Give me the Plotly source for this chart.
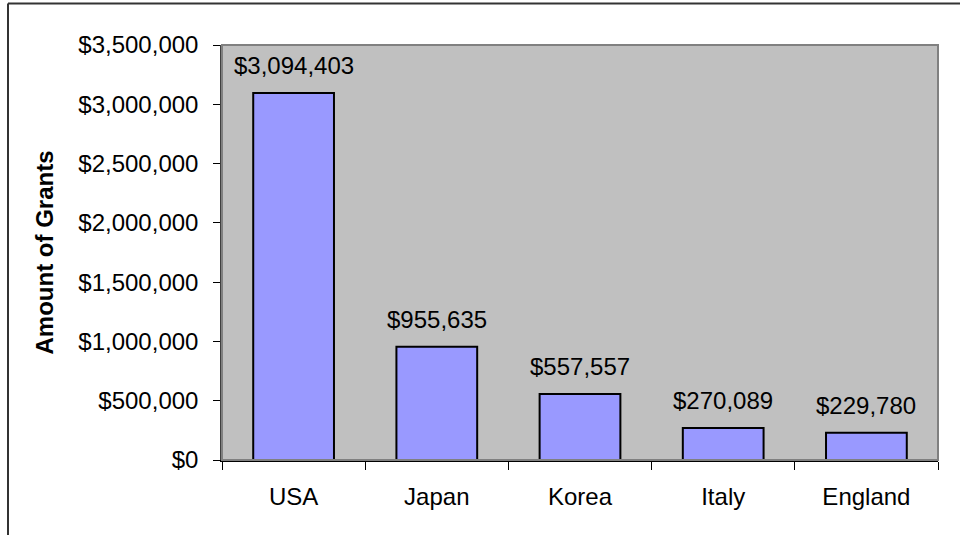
import plotly.graph_objects as go

categories = ["USA", "Japan", "Korea", "Italy", "England"]
grants = [3094403, 955635, 557557, 270089, 229780]
labels = ["$3,094,403", "$955,635", "$557,557", "$270,089", "$229,780"]
y_ticks = [0, 500000, 1000000, 1500000, 2000000, 2500000, 3000000, 3500000]
y_tick_text = ["$0", "$500,000", "$1,000,000", "$1,500,000", "$2,000,000",
               "$2,500,000", "$3,000,000", "$3,500,000"]

FONT = "Liberation Sans, Arial, sans-serif"
W, H = 960, 535
ML, MR, MT, MB = 222, 960 - 938, 45, 535 - 460
PW, PH = W - ML - MR, H - MT - MB

fig = go.Figure()
fig.add_trace(go.Bar(
    x=categories, y=grants,
    marker=dict(color="#9999FF", line=dict(color="black", width=2)),
    hoverinfo="skip",
))

for c, v, t in zip(categories, grants, labels):
    fig.add_annotation(x=c, y=v, text=t, showarrow=False, yanchor="bottom",
                       yshift=12, font=dict(family=FONT, size=24, color="black"))

# plot area frame (top/right gray)
fig.add_shape(type="rect", xref="paper", yref="paper", x0=0, x1=1, y0=0, y1=1,
              line=dict(color="#808080", width=2), fillcolor="rgba(0,0,0,0)", layer="above")
# outer chart border (left and top), pixel positions converted to paper coords
px = lambda x: (x - ML) / PW
py = lambda y: 1 - (y - MT) / PH
fig.add_shape(type="line", xref="paper", yref="paper", x0=px(8), x1=px(8), y0=py(3.5), y1=py(560),
              line=dict(color="#333333", width=2))
fig.add_shape(type="line", xref="paper", yref="paper", x0=px(8), x1=px(990), y0=py(3.5), y1=py(3.5),
              line=dict(color="#333333", width=2))

fig.update_layout(
    width=W, height=H,
    margin=dict(l=ML, r=MR, t=MT, b=MB),
    paper_bgcolor="white", plot_bgcolor="#C0C0C0",
    bargap=0.436,
    showlegend=False,
    font=dict(family=FONT, size=24, color="black"),
)
fig.update_xaxes(
    showgrid=False, showline=True, linecolor="black", linewidth=1.5,
    ticks="outside", ticklen=8, tickcolor="black", tickson="boundaries",
    tickfont=dict(family=FONT, size=24), ticklabelstandoff=14,
)
fig.update_yaxes(
    range=[0, 3500000], tickvals=y_ticks, ticktext=y_tick_text,
    showgrid=False, zeroline=False, showline=True, linecolor="#404040", linewidth=1.5,
    ticks="outside", ticklen=7, tickcolor="black",
    tickfont=dict(family=FONT, size=24), ticklabelstandoff=10,
    title=dict(text="<b>Amount of Grants</b>", font=dict(family=FONT, size=24), standoff=18),
)

fig.write_html("out.html", config={"displayModeBar": False},
               post_script="document.body.style.margin='0px';")
